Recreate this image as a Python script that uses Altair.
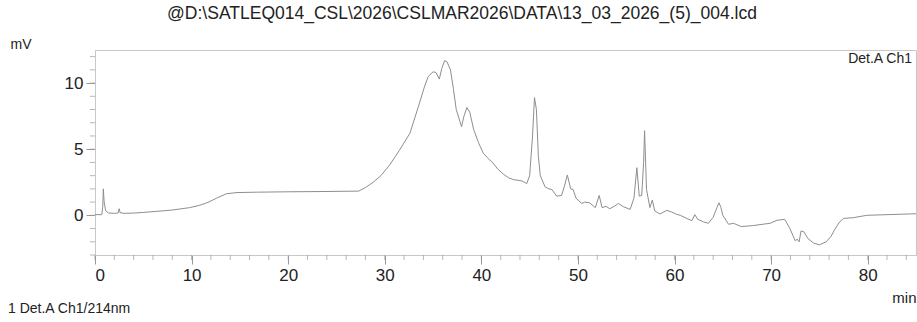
import altair as alt
import pandas as pd

# Chromatogram trace: retention time (min) and detector signal (mV)
time_min = [
    0.0, 0.7, 0.8, 0.86, 0.95, 1.1, 1.4, 2.0, 2.4, 2.5, 2.6, 3.0, 4.0, 5.0, 6.4, 8.0,
    9.8, 10.8, 11.6, 12.6, 13.6, 14.7, 16.7, 20.2, 23.6, 27.3, 28.0, 28.8, 29.6, 30.5,
    31.5, 32.6, 33.6, 34.1, 34.5, 35.0, 35.3, 35.65, 35.9, 36.2, 36.45, 36.8, 37.1,
    37.4, 37.95, 38.2, 38.5, 38.8, 39.2, 39.7, 40.2, 40.7, 41.2, 41.7, 42.3, 42.8,
    43.3, 43.8, 44.2, 44.7, 45.0, 45.3, 45.5, 45.7, 45.9, 46.1, 46.6, 47.0, 47.3,
    47.8, 48.3, 48.6, 48.9, 49.25, 49.5, 49.8, 50.4, 50.7, 51.2, 51.8, 52.2, 52.5,
    52.9, 53.3, 53.8, 54.2, 54.7, 55.4, 55.8, 56.1, 56.35, 56.6, 56.8, 56.9, 57.1,
    57.45, 57.7, 57.95, 58.5, 59.2, 59.7, 60.2, 60.6, 61.3, 61.8, 62.1, 62.4, 63.0,
    63.5, 64.0, 64.4, 64.6, 64.8, 65.0, 65.6, 66.1, 66.9, 68.1, 69.9, 70.6, 71.4,
    71.9, 72.5, 72.7, 72.9, 73.1, 73.4, 73.8, 74.4, 75.0, 75.7, 76.2, 76.6, 77.1,
    77.5, 78.5, 79.9, 82.0, 85.0,
]
signal_mv = [
    0.05, 0.05, 0.6, 2.0, 1.0, 0.35, 0.18, 0.15, 0.18, 0.5, 0.2, 0.15, 0.17, 0.22, 0.3, 0.4,
    0.58, 0.75, 0.95, 1.3, 1.63, 1.72, 1.75, 1.78, 1.8, 1.83, 2.1, 2.5, 3.0, 3.8,
    4.9, 6.2, 8.5, 9.7, 10.5, 10.85, 10.8, 10.3, 11.1, 11.7, 11.6, 11.0, 9.6,
    8.0, 6.7, 7.5, 8.15, 7.8, 6.5, 5.5, 4.7, 4.3, 3.96, 3.5, 3.1, 2.85,
    2.7, 2.65, 2.6, 2.4, 3.0, 6.0, 8.9, 8.0, 4.5, 3.0, 2.15, 2.0, 1.95,
    1.45, 1.5, 2.2, 3.05, 2.0, 1.95, 1.3, 0.9, 1.0, 0.95, 0.58, 1.5, 0.58,
    0.68, 0.5, 0.7, 0.9, 0.65, 0.45, 1.3, 3.6, 1.45, 1.5, 4.0, 6.4, 1.95,
    0.58, 1.15, 0.33, 0.1, 0.38, 0.25, 0.08, 0.0, -0.25, -0.4, 0.05, -0.3, -0.5,
    -0.6, -0.15, 0.6, 0.95, 0.6, 0.0, -0.68, -0.6, -0.85, -0.78, -0.6, -0.38, -0.3,
    -0.93, -1.93, -1.8, -2.0, -1.18, -1.25, -1.75, -2.1, -2.23, -2.0, -1.6, -1.05, -0.5,
    -0.23, -0.18, 0.0, 0.05, 0.12,
]

# Labelled (major) ticks and unlabelled (minor) ticks
x_major = [0, 10, 20, 30, 40, 50, 60, 70, 80]
y_major = [0, 5, 10]
x_minor = list(range(0, 86, 2))
y_minor = list(range(-3, 13))

FONT = "Liberation Sans"
FRAME = "#c8c8c8"
TICK = "#999999"
INK = "#222222"

W, H = 821, 205
MINOR_LEN = 5

df = pd.DataFrame({"t": time_min, "mv": signal_mv})

x_scale = alt.Scale(domain=[0, 85], nice=False, zero=False)
y_scale = alt.Scale(domain=[-3, 12.5], nice=False, zero=False)

x_axis = alt.Axis(
    values=x_major, grid=False, tickSize=9, tickColor=TICK, domainColor=FRAME,
    labelFont=FONT, labelFontSize=17, labelColor=INK, labelPadding=3,
    title="min", titleFont=FONT, titleFontSize=15, titleFontWeight="normal",
    titleColor=INK, titleX=W, titleY=42, titleAlign="right", titleBaseline="middle",
)
y_axis = alt.Axis(
    values=y_major, grid=False, tickSize=9, tickColor=TICK, domainColor=FRAME,
    labelFont=FONT, labelFontSize=17, labelColor=INK, labelPadding=3,
    title="mV", titleFont=FONT, titleFontSize=14, titleFontWeight="normal",
    titleColor=INK, titleAngle=0, titleX=-85, titleY=-6, titleAlign="left",
    titleBaseline="middle",
)

trace = alt.Chart(df).mark_line(color="#8e8e8e", strokeWidth=1, clip=True).encode(
    x=alt.X("t:Q", scale=x_scale, axis=x_axis),
    y=alt.Y("mv:Q", scale=y_scale, axis=y_axis),
)

# Short unlabelled ticks just outside the bottom and left edges of the plot;
# they share the trace's scales and axis definitions
x_minor_ticks = alt.Chart(pd.DataFrame({"t": x_minor})).mark_tick(
    orient="vertical", size=MINOR_LEN, thickness=1, color=TICK
).encode(
    x=alt.X("t:Q", scale=x_scale, axis=x_axis),
    y=alt.value(H + MINOR_LEN / 2),
)
y_minor_ticks = alt.Chart(pd.DataFrame({"mv": y_minor})).mark_tick(
    orient="horizontal", size=MINOR_LEN, thickness=1, color=TICK
).encode(
    y=alt.Y("mv:Q", scale=y_scale, axis=y_axis),
    x=alt.value(-MINOR_LEN / 2),
)

note = pd.DataFrame({"label": ["Det.A Ch1"]})
channel = alt.Chart(note).mark_text(
    font=FONT, fontSize=14, color=INK, align="right", baseline="middle"
).encode(x=alt.value(W - 4), y=alt.value(9), text="label:N")

path = pd.DataFrame({"label": ["@D:\\SATLEQ014_CSL\\2026\\CSLMAR2026\\DATA\\13_03_2026_(5)_004.lcd"]})
header = alt.Chart(path).mark_text(
    font=FONT, fontSize=17.5, color=INK, align="center", baseline="middle"
).encode(x=alt.value(367), y=alt.value(-36), text="label:N")

legend = pd.DataFrame({"label": ["1 Det.A Ch1/214nm"]})
footer = alt.Chart(legend).mark_text(
    font=FONT, fontSize=14, color=INK, align="left", baseline="middle"
).encode(x=alt.value(-87), y=alt.value(259), text="label:N")

chart = alt.layer(
    trace, x_minor_ticks, y_minor_ticks, channel, header, footer
).properties(
    width=W, height=H,
    autosize=alt.AutoSizeParams(type="none"),
    padding={"left": 95, "top": 50, "right": 1, "bottom": 67},
).configure_view(stroke=FRAME, strokeWidth=1)

chart.save("out.html", embed_options={"renderer": "svg", "actions": False})
